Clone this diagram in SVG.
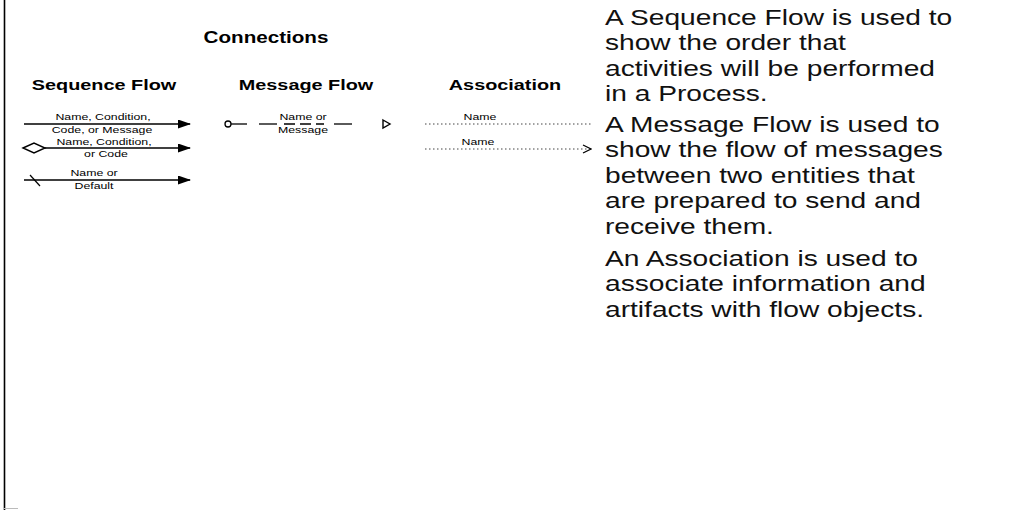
<svg xmlns="http://www.w3.org/2000/svg" width="1023" height="510" viewBox="0 0 1023 510">
<style>
.hd{font-family:"Liberation Sans",Arial,sans-serif;font-weight:bold;font-size:15.5px;fill:#000;text-anchor:middle}
.ttl{font-family:"Liberation Sans",Arial,sans-serif;font-weight:bold;font-size:16.5px;fill:#000;text-anchor:middle}
.lbl{font-family:"Liberation Sans",Arial,sans-serif;font-size:8.5px;fill:#000;text-anchor:middle}
.desc{font-family:"Liberation Sans",Arial,sans-serif;font-size:22px;fill:#111}
.seq{stroke:#000;stroke-width:1.6;fill:none}
.msg{stroke:#000;stroke-width:1.3;fill:none}
.asc{stroke:#444;stroke-width:1;fill:none;stroke-dasharray:1.5 2.5}
</style>
<defs>
<marker id="fill" markerWidth="13" markerHeight="9" refX="12" refY="4.5" orient="auto" markerUnits="userSpaceOnUse">
<path d="M0,0 L13,4.5 L0,9 Z" fill="#000"/>
</marker>
<marker id="open" markerWidth="10" markerHeight="10" refX="9" refY="5" orient="auto" markerUnits="userSpaceOnUse">
<path d="M1,1 L9,5 L1,9" fill="none" stroke="#000" stroke-width="1.2"/>
</marker>
</defs>
<rect width="1023" height="510" fill="#fff"/>
<line x1="4.5" y1="0" x2="4.5" y2="510" stroke="#000" stroke-width="1.6"/>
<line x1="3" y1="508.5" x2="18" y2="508.5" stroke="#bbb" stroke-width="1"/>

<g id="headers">
<text class="ttl" transform="translate(266,43) scale(1.25,1)">Connections</text>
<text class="hd" transform="translate(104,90) scale(1.28,1)">Sequence Flow</text>
<text class="hd" transform="translate(306,90) scale(1.28,1)">Message Flow</text>
<text class="hd" transform="translate(505,90) scale(1.28,1)">Association</text>
</g>

<g id="connectors">
<line class="seq" x1="24" y1="124" x2="190" y2="124" marker-end="url(#fill)"/>
<line class="seq" x1="45" y1="148" x2="190" y2="148" marker-end="url(#fill)"/>
<path d="M23,148 L34,143 L45,148 L34,153 Z" fill="#fff" stroke="#000" stroke-width="1.4"/>
<line class="seq" x1="24" y1="180" x2="190" y2="180" marker-end="url(#fill)"/>
<line x1="30" y1="175" x2="40" y2="186" stroke="#000" stroke-width="1.2"/>

<circle cx="228" cy="124" r="3" fill="#fff" stroke="#000" stroke-width="1.3"/>
<line class="msg" x1="231" y1="124" x2="247" y2="124"/>
<line class="msg" x1="259" y1="124" x2="277" y2="124"/>
<line class="msg" x1="284" y1="124" x2="324" y2="124" stroke-dasharray="11 5"/>
<line class="msg" x1="334" y1="124" x2="352" y2="124"/>
<path d="M383,120 L390,124 L383,128 Z" fill="#fff" stroke="#000" stroke-width="1.4"/>

<line class="asc" x1="425" y1="124" x2="591" y2="124"/>
<line class="asc" x1="425" y1="149" x2="591" y2="149" marker-end="url(#open)"/>
</g>

<g id="labels">
<text class="lbl" transform="translate(103,120) scale(1.45,1)">Name, Condition,</text>
<text class="lbl" transform="translate(102,133) scale(1.45,1)">Code, or Message</text>
<text class="lbl" transform="translate(104,145) scale(1.45,1)">Name, Condition,</text>
<text class="lbl" transform="translate(106,157) scale(1.45,1)">or Code</text>
<text class="lbl" transform="translate(94,176) scale(1.45,1)">Name or</text>
<text class="lbl" transform="translate(94,189) scale(1.45,1)">Default</text>
<text class="lbl" transform="translate(303,120) scale(1.45,1)">Name or</text>
<text class="lbl" transform="translate(303,133) scale(1.45,1)">Message</text>
<text class="lbl" transform="translate(480,120) scale(1.45,1)">Name</text>
<text class="lbl" transform="translate(478,145) scale(1.45,1)">Name</text>
</g>

<g id="descriptions" transform="translate(605,0) scale(1.28,1)">
<text class="desc" x="0" y="25">A Sequence Flow is used to</text>
<text class="desc" x="0" y="50.5">show the order that</text>
<text class="desc" x="0" y="76">activities will be performed</text>
<text class="desc" x="0" y="101.5">in a Process.</text>
<text class="desc" x="0" y="132">A Message Flow is used to</text>
<text class="desc" x="0" y="157.5">show the flow of messages</text>
<text class="desc" x="0" y="183">between two entities that</text>
<text class="desc" x="0" y="208.5">are prepared to send and</text>
<text class="desc" x="0" y="234">receive them.</text>
<text class="desc" x="0" y="266">An Association is used to</text>
<text class="desc" x="0" y="291.5">associate information and</text>
<text class="desc" x="0" y="317">artifacts with flow objects.</text>
</g>
</svg>
